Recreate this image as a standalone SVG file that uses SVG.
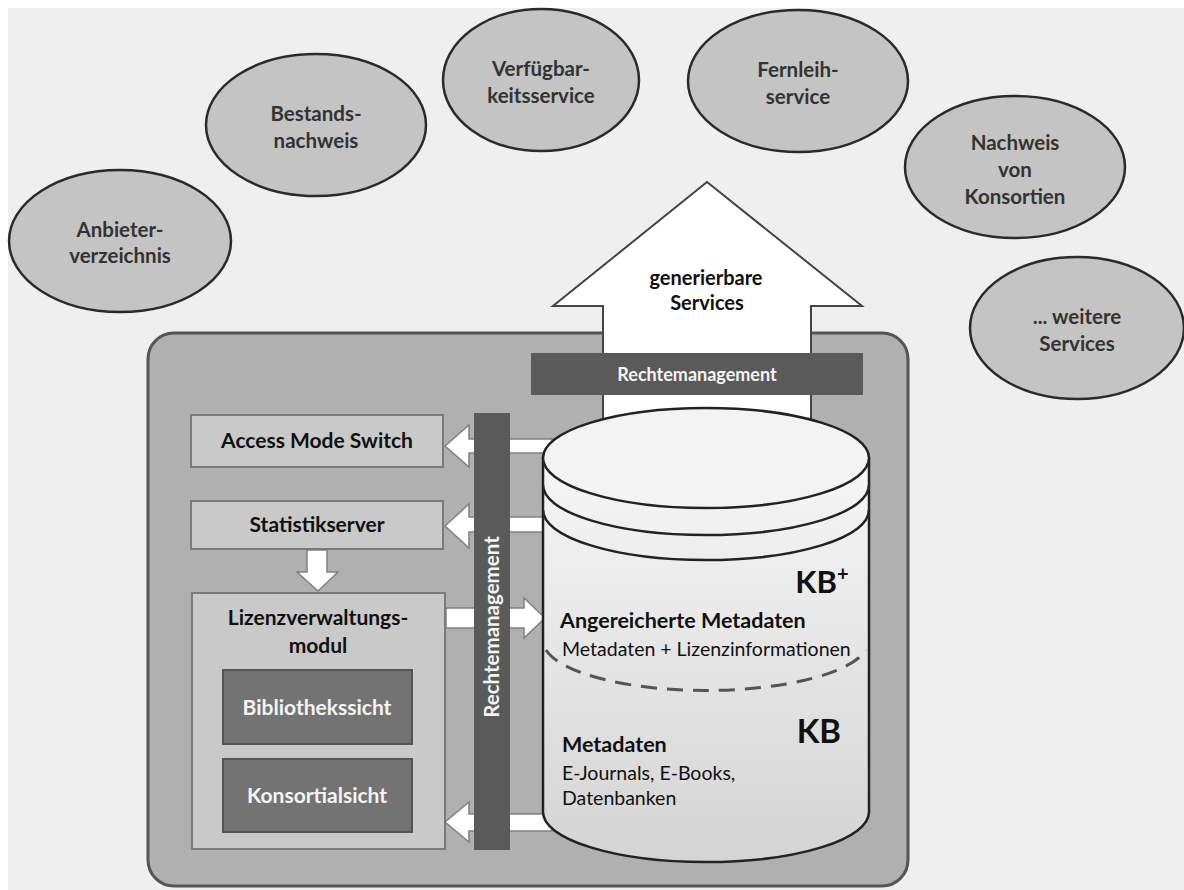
<svg xmlns="http://www.w3.org/2000/svg" width="1184" height="890" viewBox="0 0 1184 890">
<defs>
<style>
.ell{fill:#c4c4c4;stroke:#2a2a2a;stroke-width:2.5}
.et{font-family:Lato,"Open Sans",sans-serif;font-weight:bold;font-size:20.5px;fill:#333;text-anchor:middle}
.box{fill:#c9c9c9;stroke:#7a7a7a;stroke-width:2}
.dbox{fill:#737373;stroke:#555;stroke-width:2}
.bt{font-family:Lato,"Open Sans",sans-serif;font-weight:bold;font-size:21px;fill:#111;text-anchor:middle}
.wt{font-family:Lato,"Open Sans",sans-serif;font-weight:bold;font-size:21px;fill:#f4f4f4;text-anchor:middle}
.bar{fill:#5a5a5a}
.arr{fill:#fff;stroke:#808080;stroke-width:1.5;stroke-linejoin:miter}
.ct{font-family:Lato,"Open Sans",sans-serif;fill:#111}
</style>
<linearGradient id="cyl" x1="0" y1="0" x2="0" y2="1">
<stop offset="0" stop-color="#f6f6f6"/>
<stop offset="1" stop-color="#d4d4d4"/>
</linearGradient>
</defs>
<rect x="0" y="0" width="1184" height="890" fill="#ffffff"/>
<rect x="8" y="8" width="1176" height="882" fill="#efefef"/>

<g id="anbieterverzeichnis">
<ellipse class="ell" cx="120" cy="241" rx="111" ry="71"/>
<text class="et" x="120" y="237">Anbieter-</text>
<text class="et" x="120" y="263">verzeichnis</text>
</g>
<g id="bestandsnachweis">
<ellipse class="ell" cx="316" cy="125" rx="110" ry="71"/>
<text class="et" x="316" y="121">Bestands-</text>
<text class="et" x="316" y="148">nachweis</text>
</g>
<g id="verfuegbarkeitsservice">
<ellipse class="ell" cx="541" cy="80" rx="98" ry="71"/>
<text class="et" x="541" y="76">Verfügbar-</text>
<text class="et" x="541" y="103">keitsservice</text>
</g>
<g id="fernleihservice">
<ellipse class="ell" cx="798" cy="81" rx="110" ry="71"/>
<text class="et" x="798" y="77">Fernleih-</text>
<text class="et" x="798" y="104">service</text>
</g>
<g id="konsortien">
<ellipse class="ell" cx="1015" cy="167" rx="110" ry="71"/>
<text class="et" x="1015" y="150">Nachweis</text>
<text class="et" x="1015" y="177">von</text>
<text class="et" x="1015" y="204">Konsortien</text>
</g>
<g id="weitere">
<ellipse class="ell" cx="1077" cy="328" rx="107" ry="71"/>
<text class="et" x="1077" y="324">... weitere</text>
<text class="et" x="1077" y="351">Services</text>
</g>

<g id="system">
<rect x="148" y="333" width="760" height="553" rx="26" fill="#b0b0b0" stroke="#555" stroke-width="3"/>
</g>

<g id="services-arrow">
<path d="M707,182 L862,306 L811,306 L811,470 L603,470 L603,306 L553,306 Z" fill="#fff" stroke="#444" stroke-width="2"/>
<text class="ct" x="706" y="285" font-size="20" text-anchor="middle" font-weight="bold" fill="#2a2a2a">generierbare</text>
<text class="ct" x="707" y="310" font-size="20" text-anchor="middle" font-weight="bold" fill="#2a2a2a">Services</text>
</g>

<g id="rechtemanagement-h">
<rect class="bar" x="531" y="353" width="332" height="42"/>
<text class="wt" x="697" y="381" style="font-size:18px">Rechtemanagement</text>
</g>

<g id="connectors">
<path class="arr" d="M445,446 L469,425 L469,439 L552,439 L552,453 L469,453 L469,467 Z"/>
<path class="arr" d="M445,526 L469,504 L469,517 L552,517 L552,532 L469,532 L469,548 Z"/>
<path class="arr" d="M445,822 L469,802 L469,814 L552,814 L552,831 L469,831 L469,842 Z"/>
<path class="arr" d="M545,618 L524,598 L524,608 L446,608 L446,628 L524,628 L524,638 Z"/>
<path class="arr" d="M318,591 L297,572 L307,572 L307,550 L327,550 L327,572 L338,572 Z"/>
</g>

<g id="rechtemanagement-v">
<rect class="bar" x="474" y="413" width="36" height="437"/>
<text class="wt" transform="translate(499,627) rotate(-90)" style="font-size:20.5px">Rechtemanagement</text>
</g>

<g id="access-mode-switch">
<rect class="box" x="191" y="415" width="252" height="52"/>
<text class="bt" x="317" y="448">Access Mode Switch</text>
</g>
<g id="statistikserver">
<rect class="box" x="191" y="501" width="252" height="48"/>
<text class="bt" x="317" y="532">Statistikserver</text>
</g>
<g id="lizenzverwaltungsmodul">
<rect class="box" x="192" y="593" width="253" height="256"/>
<text class="bt" x="318" y="625">Lizenzverwaltungs-</text>
<text class="bt" x="318" y="653">modul</text>
</g>
<g id="bibliothekssicht">
<rect class="dbox" x="223" y="670" width="189" height="74"/>
<text class="wt" x="317" y="715">Bibliothekssicht</text>
</g>
<g id="konsortialsicht">
<rect class="dbox" x="223" y="759" width="189" height="73"/>
<text class="wt" x="317" y="803">Konsortialsicht</text>
</g>

<g id="kb">
<path d="M543,458 L543,812 A163,50 0 0 0 869,812 L869,458 Z" fill="url(#cyl)" stroke="#222" stroke-width="2.5"/>
<ellipse cx="706" cy="458" rx="163" ry="50" fill="#f3f3f3" stroke="#222" stroke-width="2.5"/>
<path d="M543,485 A163,50 0 0 0 869,485" fill="none" stroke="#222" stroke-width="2.5"/>
<path d="M543,510 A163,50 0 0 0 869,510" fill="none" stroke="#222" stroke-width="2.5"/>
<path d="M546,650 A163,50 0 0 0 866,650" fill="none" stroke="#555" stroke-width="3" stroke-dasharray="16,10"/>
<text class="ct" x="837" y="593" font-size="31" font-weight="bold" text-anchor="end">KB</text>
<text class="ct" x="837" y="581" font-size="20" font-weight="bold">+</text>
<text class="ct" x="560" y="628" font-size="21.5" font-weight="bold">Angereicherte Metadaten</text>
<text class="ct" x="562" y="656" font-size="19.5" fill="#222">Metadaten + Lizenzinformationen</text>
<text class="ct" x="841" y="743" font-size="33" font-weight="bold" text-anchor="end">KB</text>
<text class="ct" x="562" y="752" font-size="21.5" font-weight="bold">Metadaten</text>
<text class="ct" x="562" y="780" font-size="19.5" fill="#222">E-Journals, E-Books,</text>
<text class="ct" x="562" y="805" font-size="19.5" fill="#222">Datenbanken</text>
</g>
</svg>
